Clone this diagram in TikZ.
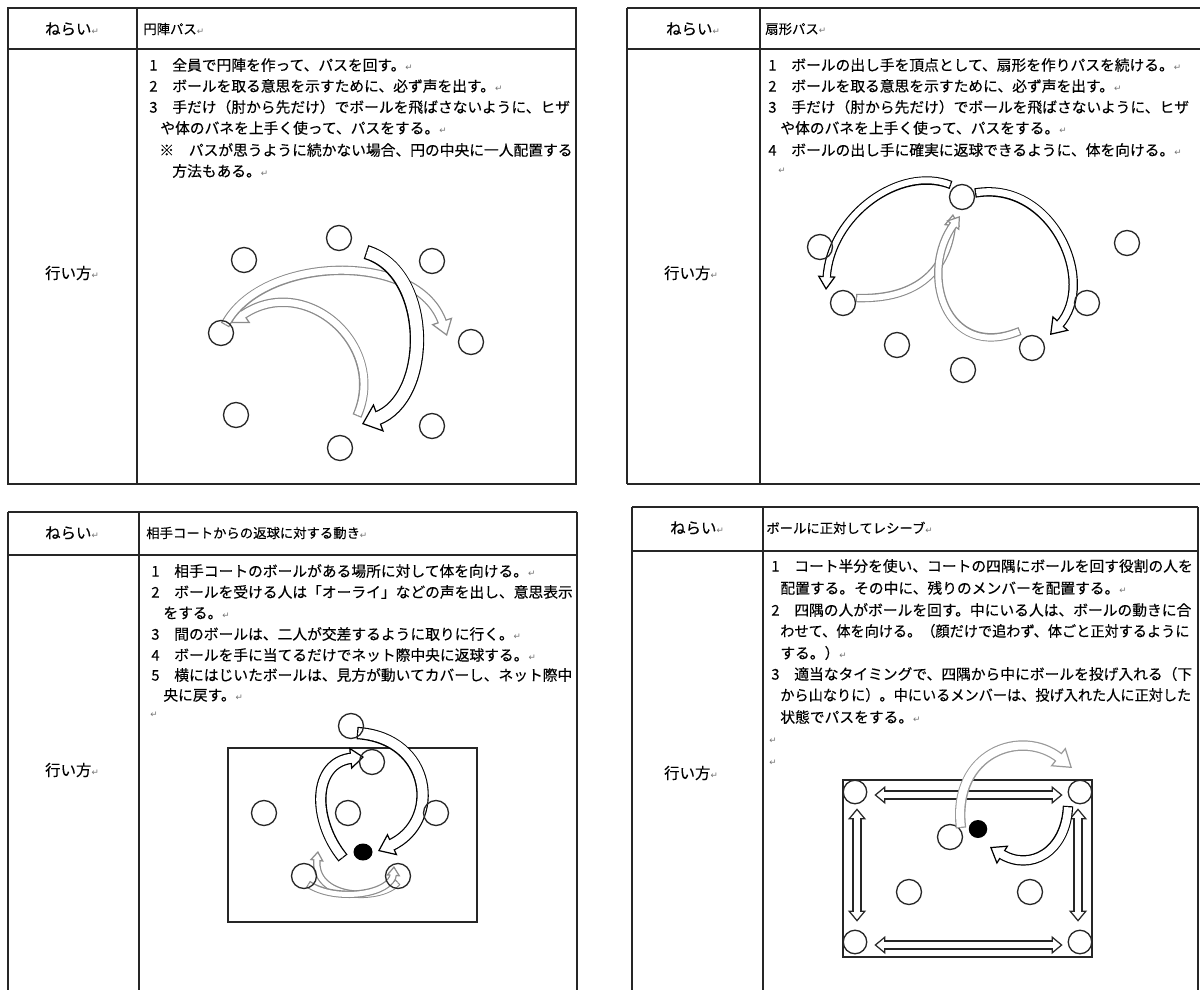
\documentclass[tikz,border=0pt]{standalone}
\usepackage{fontspec}
\setmainfont{Noto Sans CJK JP}[FakeBold=0.25]
\newfontfamily\djv{DejaVu Sans}
\usetikzlibrary{arrows.meta,shapes.geometric,calc}
\newcommand\rt{{\djv\color{black!55}\fontsize{5}{5}\selectfont ↵}}
% hollow curved block arrow: #1 colour, #2 shaft width, #3 head length, #4 head width, #5 path (px units)
\newcommand\barr[5]{%
 \pgfmathsetlengthmacro\bkW{#2*0.5669pt}%
 \pgfmathsetlengthmacro\bkO{#2*0.5669pt+1.4pt}%
 \pgfmathsetlengthmacro\bkL{#3*0.5669pt}%
 \pgfmathsetlengthmacro\bkH{#4*0.5669pt}%
 \pgfmathsetlengthmacro\bkS{#3*0.5669pt-1.3pt}%
 \draw[draw=#1, line width=\bkO, shorten >=\bkS] #5;
 \draw[draw=white, line width=0.01pt, -{Triangle[length=\bkL, width=\bkH, color=#1, fill=white, line width=0.7pt]}] #5;
 \draw[draw=white, line width=\bkW, shorten >=\bkS, shorten <=0.7pt] #5;
}
\newcommand\dbarr[5]{%
 \pgfmathsetlengthmacro\bkW{#2*0.5669pt}%
 \pgfmathsetlengthmacro\bkO{#2*0.5669pt+1.4pt}%
 \pgfmathsetlengthmacro\bkL{#3*0.5669pt}%
 \pgfmathsetlengthmacro\bkH{#4*0.5669pt}%
 \pgfmathsetlengthmacro\bkS{#3*0.5669pt-1.3pt}%
 \draw[draw=#1, line width=\bkO, shorten >=\bkS, shorten <=\bkS] #5;
 \draw[draw=white, line width=0.01pt, {Triangle[length=\bkL, width=\bkH, color=#1, fill=white, line width=0.7pt]}-{Triangle[length=\bkL, width=\bkH, color=#1, fill=white, line width=0.7pt]}] #5;
 \draw[draw=white, line width=\bkW, shorten >=\bkS, shorten <=\bkS] #5;
}
\begin{document}
\begin{tikzpicture}[x=0.02cm,y=-0.02cm,
  tb/.style={line width=0.8pt, draw=black!85},
  txt/.style={anchor=west, inner sep=0pt, font=\fontsize{8.4}{10}\selectfont},
  ttl/.style={anchor=west, inner sep=0pt, font=\fontsize{7.6}{9}\selectfont},
  hd/.style={inner sep=0pt, font=\fontsize{8.8}{10}\selectfont},
  pl/.style={circle, draw=black!85, line width=0.75pt, minimum size=0.5cm, inner sep=0pt},
  cpl/.style={circle, draw=black!85, line width=0.75pt, minimum size=0.47cm, inner sep=0pt},
  ball/.style={ellipse, fill=black, minimum width=0.38cm, minimum height=0.34cm, inner sep=0pt},
  court/.style={draw=black!85, line width=0.8pt}]
\useasboundingbox (0,0) rectangle (1200,990);
\fill[white] (0,0) rectangle (1200,990);

%================ top-left table =================
\draw[tb] (8,8) rectangle (576,484);
\draw[tb] (8,49) -- (576,49);
\draw[tb] (137,8) -- (137,484);
\node[hd] (tlh) at (72,29) {ねらい\rt};
\node[ttl] (tlt) at (143,29) {円陣パス\rt};
\node[hd] (tlw) at (72,273) {行い方\rt};
\node[txt] (tl1) at (149,65) {1　全員で円陣を作って、パスを回す。\rt};
\node[txt] (tl2) at (149,86) {2　ボールを取る意思を示すために、必ず声を出す。\rt};
\node[txt] (tl3) at (149,107) {3　手だけ（肘から先だけ）でボールを飛ばさないように、ヒザ};
\node[txt] (tl4) at (160,128) {や体のバネを上手く使って、パスをする。\rt};
\node[txt] (tl5) at (159,150) {※　パスが思うように続かない場合、円の中央に一人配置する};
\node[txt] (tl6) at (172,171) {方法もある。\rt};

\barr{black!45}{7}{16}{22}{(357,416) .. controls (388,345) and (305,272) .. (231,323)}
\barr{black!45}{7}{16}{22}{(225,325) .. controls (262,255) and (418,250) .. (447,336)}
\barr{black}{12}{18}{30}{(366,252) .. controls (432,272) and (432,398) .. (362,424)}
\node[pl] (a1) at (339,238) {};
\node[pl] (a2) at (244,260) {};
\node[pl] (a3) at (432,261) {};
\node[pl] (a4) at (221,333) {};
\node[pl] (a5) at (471,342) {};
\node[pl] (a6) at (236,415) {};
\node[pl] (a7) at (432,426) {};
\node[pl] (a8) at (340,448) {};

%================ top-right table =================
\draw[tb] (627,8) -- (1200,8);
\draw[tb] (627,49) -- (1200,49);
\draw[tb] (627,484) -- (1200,484);
\draw[tb] (627,8) -- (627,484);
\draw[tb] (760,8) -- (760,484);
\node[hd] (trh) at (693,29) {ねらい\rt};
\node[ttl] (trt) at (765,29) {扇形パス\rt};
\node[hd] (trw) at (691,273) {行い方\rt};
\node[txt] (tr1) at (768,65) {1　ボールの出し手を頂点として、扇形を作りパスを続ける。\rt};
\node[txt] (tr2) at (768,86) {2　ボールを取る意思を示すために、必ず声を出す。\rt};
\node[txt] (tr3) at (768,107) {3　手だけ（肘から先だけ）でボールを飛ばさないように、ヒザ};
\node[txt] (tr4) at (780,128) {や体のバネを上手く使って、パスをする。\rt};
\node[txt] (tr5) at (768,150) {4　ボールの出し手に確実に返球できるように、体を向ける。\rt};
\node[txt] (tr6) at (778,171) {\rt};

\barr{black!45}{6}{12}{16}{(856,298) .. controls (920,300) and (948,268) .. (953,214)}
\barr{black!45}{6}{12}{16}{(1020,331) .. controls (945,362) and (918,272) .. (960,216)}
\barr{black}{6}{14}{18}{(951,185) .. controls (900,165) and (830,215) .. (826,290)}
\barr{black}{7}{16}{22}{(975,193) .. controls (1052,180) and (1098,282) .. (1050,335)}
\node[pl] (r1) at (962,197) {};
\node[pl] (r2) at (820,247) {};
\node[pl] (r3) at (1127,243) {};
\node[pl] (r4) at (843,303) {};
\node[pl] (r5) at (1087,303) {};
\node[pl] (r6) at (897,345) {};
\node[pl] (r7) at (1032,348) {};
\node[pl] (r8) at (963,370) {};

%================ bottom-left table =================
\draw[tb] (8,512) -- (577,512);
\draw[tb] (8,555) -- (577,555);
\draw[tb] (8,512) -- (8,990);
\draw[tb] (139,512) -- (139,990);
\draw[tb] (577,512) -- (577,990);
\node[hd] (blh) at (72,533) {ねらい\rt};
\node[ttl] (blt) at (146,533) {相手コートからの返球に対する動き\rt};
\node[hd] (blw) at (72,770) {行い方\rt};
\node[txt] (bl1) at (151,571) {1　相手コートのボールがある場所に対して体を向ける。\rt};
\node[txt] (bl2) at (151,592) {2　ボールを受ける人は「オーライ」などの声を出し、意思表示};
\node[txt] (bl3) at (163,613) {をする。\rt};
\node[txt] (bl4) at (151,634) {3　間のボールは、二人が交差するように取りに行く。\rt};
\node[txt] (bl5) at (151,655) {4　ボールを手に当てるだけでネット際中央に返球する。\rt};
\node[txt] (bl6) at (151,675) {5　横にはじいたボールは、見方が動いてカバーし、ネット際中};
\node[txt] (bl7) at (163,695) {央に戻す。\rt};
\node[txt] (bl8) at (150,715) {\rt};

\draw[court] (228,748) rectangle (477,922);
\barr{black!45}{5}{10}{14}{(398,882) .. controls (380,902) and (312,900) .. (318,851)}
\barr{black!45}{5}{10}{14}{(308,884) .. controls (335,902) and (392,895) .. (394,866)}
\barr{black}{10}{16}{24}{(357,733) .. controls (432,738) and (442,822) .. (378,851)}
\barr{black}{9}{14}{22}{(343,858) .. controls (312,820) and (312,762) .. (364,757)}
\node[pl] (b1) at (351,726) {};
\node[pl] (b2) at (372,762) {};
\node[pl] (b3) at (264,813) {};
\node[pl] (b4) at (348,813) {};
\node[pl] (b5) at (436,813) {};
\node[pl] (b6) at (304,876) {};
\node[pl] (b7) at (398,876) {};
\node[ball] (bb) at (363,852) {};

%================ bottom-right table =================
\draw[tb] (632,507) -- (1198,507);
\draw[tb] (632,551) -- (1198,551);
\draw[tb] (632,507) -- (632,990);
\draw[tb] (763,507) -- (763,990);
\draw[tb] (1198,507) -- (1198,990);
\node[hd] (brh) at (697,528) {ねらい\rt};
\node[ttl] (brt) at (766,528) {ボールに正対してレシーブ\rt};
\node[hd] (brw) at (691,773) {行い方\rt};
\node[txt] (br1) at (771,566) {1　コート半分を使い、コートの四隅にボールを回す役割の人を};
\node[txt] (br2) at (780,588) {配置する。その中に、残りのメンバーを配置する。\rt};
\node[txt] (br3) at (771,610) {2　四隅の人がボールを回す。中にいる人は、ボールの動きに合};
\node[txt] (br4) at (780,631) {\scalebox{0.96}[1]{わせて、体を向ける。（顔だけで追わず、体ごと正対するように}};
\node[txt] (br5) at (780,653) {する。）\rt};
\node[txt] (br6) at (771,674) {3　適当なタイミングで、四隅から中にボールを投げ入れる（下};
\node[txt] (br7) at (780,695) {\scalebox{0.96}[1]{から山なりに）。中にいるメンバーは、投げ入れた人に正対した}};
\node[txt] (br8) at (780,717) {状態でパスをする。\rt};
\node[txt] (br9) at (769,741) {\rt};
\node[txt] (br10) at (769,763) {\rt};

\draw[court] (843,780) rectangle (1092,957);
\node[cpl] (c1) at (855,792) {};
\node[cpl] (c2) at (1080,792) {};
\node[cpl] (c3) at (855,942) {};
\node[cpl] (c4) at (1080,942) {};
\node[pl] (i1) at (950,837) {};
\node[pl] (i2) at (909,892) {};
\node[pl] (i3) at (1030,892) {};
\dbarr{black!85}{7}{11}{18}{($(c1.east)+(7,3)$) -- ($(c2.west)+(-5,3)$)}
\dbarr{black!85}{7}{11}{18}{($(c3.east)+(7,3)$) -- ($(c4.west)+(-5,3)$)}
\dbarr{black!85}{7}{11}{18}{($(c1.south)+(2,4)$) -- ($(c3.north)+(2,-8)$)}
\dbarr{black!85}{7}{11}{18}{($(c2.south)+(-2,4)$) -- ($(c4.north)+(-2,-8)$)}
\barr{black!40}{8}{18}{24}{(961,828) .. controls (952,752) and (1022,728) .. (1072,768)}
\barr{black}{8}{15}{22}{(1068,806) .. controls (1066,852) and (1030,872) .. (990,847)}
\node[ball, minimum width=0.37cm, minimum height=0.36cm] (bb2) at (978,829) {};
\end{tikzpicture}
\end{document}
